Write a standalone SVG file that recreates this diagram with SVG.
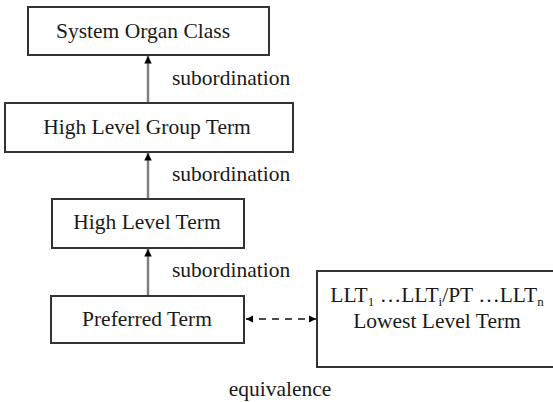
<svg xmlns="http://www.w3.org/2000/svg" width="553" height="402" viewBox="0 0 553 402">
<style>
text{font-family:'Liberation Serif','DejaVu Serif','Times New Roman',serif;font-size:21.5px;fill:#1a1a1a}
.t{text-anchor:middle}
.box{fill:#fff;stroke:#333;stroke-width:2}
.sub{font-size:13px}
.up{stroke:#808080;stroke-width:2.5;fill:none;marker-end:url(#ah)}
.eq{stroke:#111;stroke-width:1.6;stroke-dasharray:7 6;fill:none;marker-start:url(#ahs);marker-end:url(#ah2)}
</style>
<defs>
<marker id="ah" viewBox="0 0 10 10" refX="10" refY="5" markerWidth="3" markerHeight="3" orient="auto" markerUnits="strokeWidth"><path d="M0,0 L10,5 L0,10 z" fill="#000"/></marker>
<marker id="ah2" viewBox="0 0 10 10" refX="10" refY="5" markerWidth="4.5" markerHeight="4.5" orient="auto" markerUnits="strokeWidth"><path d="M0,0 L10,5 L0,10 z" fill="#000"/></marker>
<marker id="ahs" viewBox="0 0 10 10" refX="0" refY="5" markerWidth="4.5" markerHeight="4.5" orient="auto" markerUnits="strokeWidth"><path d="M10,0 L0,5 L10,10 z" fill="#000"/></marker>
</defs>
<rect width="553" height="402" fill="#fff"/>
<g id="connectors" font-family="Liberation Serif, serif">
<line class="up" x1="148" y1="103" x2="148" y2="56"/>
<line class="up" x1="148" y1="199" x2="148" y2="153"/>
<line class="up" x1="148" y1="295" x2="148" y2="249"/>
<line class="eq" x1="246" y1="319" x2="316" y2="319"/>
<text x="172" y="85">subordination</text>
<text x="172" y="181">subordination</text>
<text x="172" y="277">subordination</text>
<text class="t" x="280" y="396">equivalence</text>
</g>
<g id="soc">
<rect class="box" x="28" y="7" width="241" height="48"/>
<text class="t" x="143" y="38">System Organ Class</text>
</g>
<g id="hlgt">
<rect class="box" x="5" y="103" width="288" height="49"/>
<text class="t" x="147" y="134">High Level Group Term</text>
</g>
<g id="hlt">
<rect class="box" x="52" y="199" width="192" height="49"/>
<text class="t" x="147" y="229">High Level Term</text>
</g>
<g id="pt">
<rect class="box" x="51" y="296" width="193" height="47"/>
<text class="t" x="147" y="326">Preferred Term</text>
</g>
<g id="llt">
<rect class="box" x="317" y="271" width="250" height="96"/>
<text class="t" x="437" y="302">LLT<tspan class="sub" dy="4">1</tspan><tspan dy="-4"> …LLT</tspan><tspan class="sub" dy="4">i</tspan><tspan dy="-4">/PT …LLT</tspan><tspan class="sub" dy="4">n</tspan></text>
<text class="t" x="437" y="328">Lowest Level Term</text>
</g>
</svg>
